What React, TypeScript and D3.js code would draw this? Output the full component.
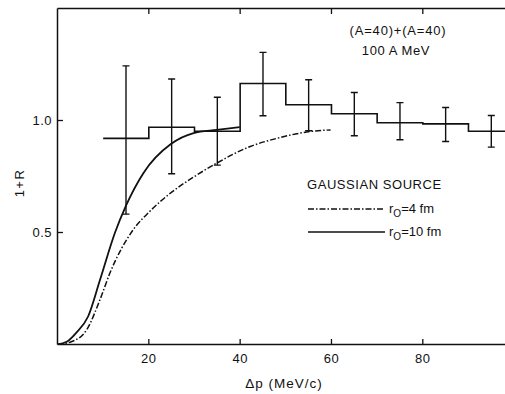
import React from "react";
import * as d3 from "d3";

const W = 505;
const H = 394;

const xTicks = [20, 40, 60, 80];
const yTicks = [0.5, 1.0];

const binEdges = [10, 20, 30, 40, 50, 60, 70, 80, 90, 100];
const histValues = [0.92, 0.97, 0.952, 1.165, 1.07, 1.03, 0.99, 0.985, 0.952];

const errCenters = [15, 25, 35, 45, 55, 65, 75, 85, 95];
const errTop = [1.244, 1.185, 1.104, 1.304, 1.182, 1.125, 1.08, 1.058, 1.022];
const errBottom = [0.582, 0.762, 0.801, 1.021, 0.954, 0.932, 0.914, 0.906, 0.881];

const solidX = [0, 2, 4, 6.7, 9.3, 12.6, 15, 18.8, 24.9, 29.8, 34.9, 39.9];
const solidY = [0, 0.012, 0.05, 0.125, 0.288, 0.5, 0.62, 0.765, 0.896, 0.944, 0.958, 0.97];

const dashX = [0, 3, 6.4, 9.3, 11.5, 16.5, 20, 25, 30, 34.9, 42.2, 48, 55.4, 59.8];
const dashY = [0, 0.012, 0.066, 0.2, 0.32, 0.51, 0.59, 0.68, 0.75, 0.81, 0.884, 0.92, 0.951, 0.958];

export default function App() {
  const x = d3.scaleLinear().domain([0, 98]).range([57.5, 505]);
  const y = d3.scaleLinear().domain([0, 1.5]).range([344.5, 8.5]);

  const line = d3
    .line<[number, number]>()
    .x((d) => x(d[0]))
    .y((d) => y(d[1]))
    .curve(d3.curveMonotoneX);

  const solidPath = line(solidX.map((v, i) => [v, solidY[i]] as [number, number])) || "";
  const dashPath = line(dashX.map((v, i) => [v, dashY[i]] as [number, number])) || "";

  const histPts: [number, number][] = [];
  histValues.forEach((v, i) => {
    histPts.push([binEdges[i], v]);
    histPts.push([binEdges[i + 1], v]);
  });
  const histPath =
    d3
      .line<[number, number]>()
      .x((d) => x(d[0]))
      .y((d) => y(d[1]))(histPts) || "";

  const font = "'Liberation Sans', Arial, Helvetica, sans-serif";
  const ink = "#111";

  return (
    <svg
      width={W}
      height={H}
      style={{ position: "absolute", left: 0, top: 0, background: "#fff" }}
      fontFamily={font}
    >
      <defs>
        <clipPath id="plot">
          <rect x={57.5} y={8.5} width={W - 57.5} height={336} />
        </clipPath>
      </defs>
      {/* frame */}
      <line x1={57.5} x2={W} y1={8.5} y2={8.5} stroke={ink} strokeWidth={1.5} />
      <line x1={57.5} x2={W} y1={344.5} y2={344.5} stroke={ink} strokeWidth={1.5} />
      <line x1={57.5} x2={57.5} y1={8.5} y2={344.5} stroke={ink} strokeWidth={1.5} />

      {xTicks.map((t) => (
        <g key={t}>
          <line x1={x(t)} x2={x(t)} y1={344.5} y2={339} stroke={ink} strokeWidth={1.3} />
          <line x1={x(t)} x2={x(t)} y1={8.5} y2={14} stroke={ink} strokeWidth={1.3} />
          <text x={x(t)} y={363} textAnchor="middle" fontSize={13} letterSpacing={0.5} fill={ink}>
            {t}
          </text>
        </g>
      ))}
      {yTicks.map((t) => (
        <g key={t}>
          <line x1={57.5} x2={63} y1={y(t)} y2={y(t)} stroke={ink} strokeWidth={1.3} />
          <text x={52} y={y(t) + 4.5} textAnchor="end" fontSize={13} letterSpacing={0.5} fill={ink}>
            {t.toFixed(1)}
          </text>
        </g>
      ))}

      <text
        transform={`translate(24,183) rotate(-90)`}
        textAnchor="middle"
        fontSize={13}
        letterSpacing={1.5}
        fill={ink}
      >
        1+R
      </text>
      <text x={284} y={388} textAnchor="middle" fontSize={13.5} letterSpacing={1} fill={ink}>
        Δp (MeV/c)
      </text>

      <g clipPath="url(#plot)">
        <path d={histPath} fill="none" stroke={ink} strokeWidth={1.6} />
        {errCenters.map((c, i) => (
          <g key={c} stroke={ink} strokeWidth={1.4}>
            <line x1={x(c)} x2={x(c)} y1={y(errTop[i])} y2={y(errBottom[i])} />
            <line x1={x(c) - 3.5} x2={x(c) + 3.5} y1={y(errTop[i])} y2={y(errTop[i])} />
            <line x1={x(c) - 3.5} x2={x(c) + 3.5} y1={y(errBottom[i])} y2={y(errBottom[i])} />
          </g>
        ))}
        <path d={solidPath} fill="none" stroke={ink} strokeWidth={1.8} />
        <path
          d={dashPath}
          fill="none"
          stroke={ink}
          strokeWidth={1.5}
          strokeDasharray="6,2,1.5,2"
        />
      </g>

      <text x={398} y={35} textAnchor="middle" fontSize={13} letterSpacing={0.8} fill={ink}>
        (A=40)+(A=40)
      </text>
      <text x={396} y={55} textAnchor="middle" fontSize={13} letterSpacing={0.6} fill={ink}>
        100 A MeV
      </text>

      <text x={307} y={189} fontSize={13} letterSpacing={0.55} fill={ink}>
        GAUSSIAN SOURCE
      </text>
      <line
        x1={308}
        x2={385}
        y1={209}
        y2={209}
        stroke={ink}
        strokeWidth={1.5}
        strokeDasharray="6,2,1.5,2"
      />
      <text x={389} y={213} fontSize={13} fill={ink}>
        r<tspan fontSize={10} dy={4}>O</tspan>
        <tspan dy={-4}>=4 fm</tspan>
      </text>
      <line x1={308} x2={385} y1={232} y2={232} stroke={ink} strokeWidth={1.5} />
      <text x={389} y={236} fontSize={13} fill={ink}>
        r<tspan fontSize={10} dy={4}>O</tspan>
        <tspan dy={-4}>=10 fm</tspan>
      </text>
    </svg>
  );
}
